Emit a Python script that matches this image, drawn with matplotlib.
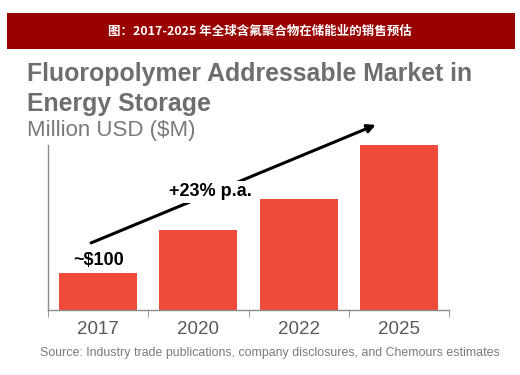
import matplotlib
matplotlib.use("Agg")
import matplotlib.pyplot as plt
from matplotlib.patches import Rectangle

# --- data ---
years = ["2017", "2020", "2022", "2025"]
market_musd = [100, 218, 303, 452]
header = "图：2017-2025 年全球含氟聚合物在储能业的销售预估"
title_lines = ["Fluoropolymer Addressable Market in", "Energy Storage"]
unit = "Million USD ($M)"
growth_label = "+23% p.a."
first_label = "~$100"
source = "Source: Industry trade publications, company disclosures, and Chemours estimates"

W, H = 520, 375
plt.rcParams['font.family'] = ['Liberation Sans', 'DejaVu Sans']

fig = plt.figure(figsize=(W / 100, H / 100), dpi=100)

# red header band
fig.patches.append(Rectangle((7 / W, 1 - 49 / H), 508 / W, 36 / H,
                             transform=fig.transFigure, facecolor='#990000',
                             edgecolor='none'))
fig.text(0.5, 1 - 31 / H, header, color='white', fontsize=9, fontweight='bold',
         ha='center', va='center', family=['Noto Sans CJK SC', 'DejaVu Sans'])

# titles
for i, line in enumerate(title_lines):
    fig.text(27 / W, 1 - (74 + 30 * i) / H, line, color='#6e6e6e', fontsize=17.9,
             fontweight='bold', ha='left', va='center')
fig.text(27 / W, 1 - 131 / H, unit, color='#7a7a7a', fontsize=16,
         ha='left', va='center')

ax = fig.add_axes([48 / W, 65 / H, 401 / W, 165 / H])
x = range(len(years))
ax.bar(x, market_musd, width=0.78, color='#ef4a3a')
ax.set_xlim(-0.5, len(years) - 0.5)
ax.set_ylim(0, 450)

for s in ['top', 'right']:
    ax.spines[s].set_visible(False)
for s in ['left', 'bottom']:
    ax.spines[s].set_color('#8c8c8c')
    ax.spines[s].set_linewidth(1)
ax.set_yticks([])
ax.set_xticks(list(x))
ax.set_xticklabels(years, fontsize=13.5, color='#595959')
ax.tick_params(axis='x', which='major', length=0, pad=8)
ax.set_xticks([i - 0.5 for i in range(len(years) + 1)], minor=True)
ax.tick_params(axis='x', which='minor', length=5, color='#8c8c8c', direction='out')

# growth arrow
ax.annotate("", xy=(2.77, 505), xytext=(-0.07, 183),
            arrowprops=dict(arrowstyle='-|>', color='black', lw=2.2,
                            mutation_scale=12, shrinkA=0, shrinkB=0),
            annotation_clip=False)
ax.text(1.12, 322, growth_label, fontsize=13, fontweight='bold', color='black',
        ha='center', va='center',
        bbox=dict(facecolor='white', edgecolor='none', pad=1.5))
ax.text(0.0, 134, first_label, fontsize=13, fontweight='bold', color='black',
        ha='center', va='center')

fig.text(269.5 / W, 1 - 353 / H, source, color='#7a7a7a', fontsize=8.9,
         ha='center', va='center')

fig.savefig("out.png", dpi=100)
